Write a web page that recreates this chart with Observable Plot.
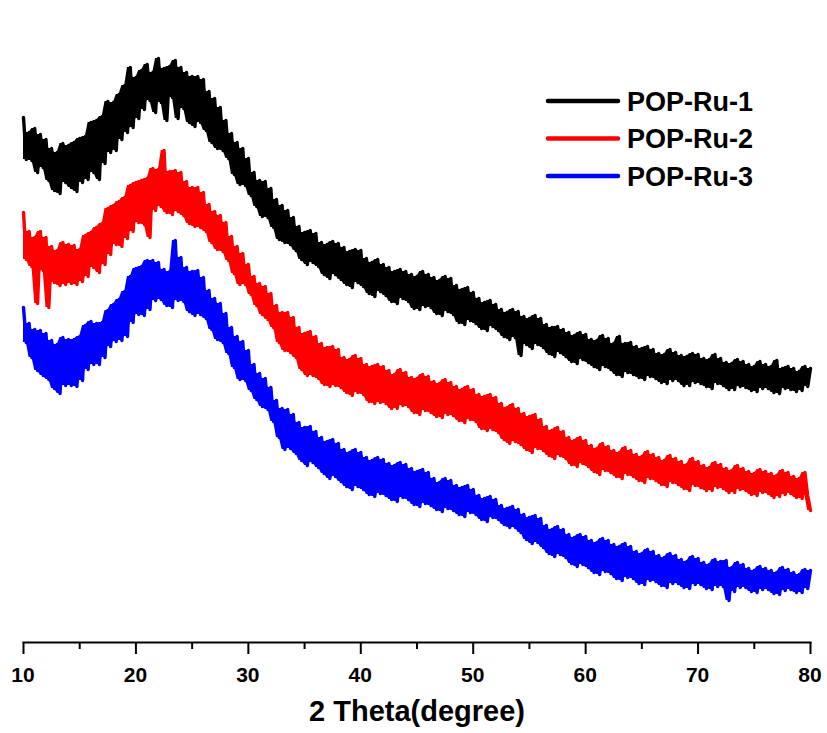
<!DOCTYPE html>
<html>
<head>
<meta charset="utf-8">
<script src="https://cdn.jsdelivr.net/npm/d3@7"></script>
<script src="https://cdn.jsdelivr.net/npm/@observablehq/plot@0.6"></script>
<style>
  html, body { margin: 0; padding: 0; background: #fff; }
  #wrap { position: relative; width: 827px; height: 733px; font-family: "Liberation Sans", Arial, sans-serif; }
  #overlay { position: absolute; left: 0; top: 0; pointer-events: none; }
</style>
</head>
<body>
<div id="wrap"></div>
<script>
// 2θ sampling grid (degrees) and axis ticks
const thetaStart = 10, thetaEnd = 80, thetaStep = 0.25;
const majorTicks = [10, 20, 30, 40, 50, 60, 70, 80];
const minorTicks = [15, 25, 35, 45, 55, 65, 75];
const xTitle = "2 Theta(degree)";
const seriesNames = ["POP-Ru-1", "POP-Ru-2", "POP-Ru-3"];
const seriesColors = ["#000000", "#ff0000", "#0000ff"];

// Intensities (a.u., offset stacked), 0.25° apart
const popRu1 = [
525,483,510,482, 514,470,508,475, 503,462,494,452, 490,449,499,460, 497,455,500,451,
504,460,506,463, 520,470,522,463, 526,479,541,490, 540,492,548,503, 557,510,575,515,
565,524,572,533, 578,542,570,530, 584,540,574,522, 576,545,582,524, 575,534,570,520,
566,516,566,520, 563,512,551,500, 544,494,535,492, 522,484,509,468, 500,458,494,457,
484,447,470,436, 462,426,461,425, 454,415,443,403, 437,400,432,398, 425,392,416,383,
410,378,412,380, 409,376,400,368, 398,364,401,368, 399,363,395,358, 391,355,393,360,
392,356,384,349, 380,346,383,351, 378,347,375,341, 371,339,373,344, 371,341,368,334,
366,333,371,336, 368,335,365,329, 362,327,366,331, 364,328,357,320, 353,318,355,322,
350,319,344,314, 340,312,342,316, 338,312,333,306, 330,303,333,305, 331,287,326,298,
324,294,327,298, 324,295,318,289, 315,286,316,290, 313,286,310,281, 307,279,310,283,
308,280,303,276, 302,273,307,276, 304,273,299,268, 306,266,299,270, 300,268,296,265,
294,263,296,266, 293,264,289,260, 288,259,293,262, 290,262,287,257, 286,257,289,260,
288,259,284,256, 283,254,288,259, 284,257,280,253, 279,253,283,256, 281,255,278,252,
276,251,281,254, 278,254,276,250, 282,249,274,254, 276,253,274,251, 271,252,276,256,
274];

const popRu2 = [
430,383,411,376, 405,339,411,372, 405,335,396,360, 392,357,400,358, 398,359,397,358,
393,361,407,366, 410,375,415,370, 419,378,434,388, 437,398,441,396, 445,404,457,411,
460,420,462,418, 464,405,474,432, 473,436,492,430, 471,428,472,431, 470,427,461,419,
455,416,455,415, 450,411,438,400, 431,393,427,391, 420,382,406,369, 396,358,389,358,
378,348,366,337, 359,328,356,323, 349,315,337,300, 330,292,330,290, 325,285,315,273,
309,267,311,267, 306,264,299,258, 295,256,296,257, 293,255,285,250, 283,247,287,250,
284,248,278,241, 276,239,278,240, 276,239,272,234, 268,234,273,237, 270,236,265,230,
264,228,268,232, 266,230,261,226, 259,225,263,228, 260,227,256,222, 253,220,256,223,
253,221,248,214, 246,212,248,213, 245,210,239,203, 235,199,238,201, 234,198,229,193,
226,190,228,194, 223,192,216,187, 212,184,215,187, 211,184,205,178, 202,176,205,179,
202,176,197,171, 194,168,199,172, 196,170,192,166, 190,164,195,168, 192,166,188,162,
186,160,191,164, 188,162,185,158, 182,156,187,160, 184,158,181,154, 178,152,184,157,
181,155,177,152, 175,152,180,155, 178,154,174,150, 172,150,177,153, 174,152,171,148,
169,147,173,150, 171,149,169,145, 167,146,172,148, 170,149,166,145, 164,144,170,147,
132];

const popRu3 = [
335,300,319,285, 313,272,312,267, 309,263,302,254, 298,249,305,257, 303,257,303,256,
306,262,317,273, 321,278,319,278, 320,285,332,296, 338,301,343,302, 351,306,366,320,
374,328,376,327, 382,333,382,342, 380,343,373,337, 371,335,402,342, 385,341,375,331,
371,327,372,328, 365,324,352,313, 344,303,339,300, 329,289,315,275, 306,263,301,262,
292,252,278,243, 269,236,264,233, 255,221,242,205, 234,193,233,194, 228,189,220,182,
215,177,216,180, 211,175,205,169, 201,164,203,166, 199,161,193,156, 190,153,193,156,
190,153,185,148, 182,146,185,149, 183,147,179,143, 177,141,180,145, 178,143,174,138,
171,136,173,139, 170,137,164,133, 160,131,164,134, 162,132,157,128, 155,126,157,130,
153,128,147,123, 144,121,146,125, 143,123,137,118, 134,115,136,115, 133,110,128,103,
125,99,127,100, 124,95,117,89, 113,86,116,88, 113,85,108,79, 105,76,108,78,
106,75,102,70, 100,68,104,71, 102,69,98,64, 96,62,99,65, 96,64,91,59,
89,58,93,62, 91,61,87,57, 85,55,89,59, 87,59,83,55, 81,54,86,58,
84,58,80,54, 78,53,83,56, 81,56,82,42, 75,51,80,55, 78,55,74,51,
72,50,76,53, 74,53,72,49, 70,48,75,52, 73,53,70,50, 68,50,73,54,
72];

const theta = d3.range(0, popRu1.length).map(i => thetaStart + i * thetaStep);
const allSeries = [popRu1, popRu2, popRu3];
const rows = [];
allSeries.forEach((vals, s) => vals.forEach((v, i) => rows.push({theta: theta[i], intensity: v, series: seriesNames[s]})));

const W = 827, H = 733;
const FONT = "'Liberation Sans', Arial, sans-serif";
const chart = Plot.plot({
  width: W,
  height: H,
  marginLeft: 23,
  marginRight: 17,
  marginTop: 42,
  marginBottom: 91,
  style: {background: "#ffffff", fontFamily: FONT, color: "#000", overflow: "visible"},
  x: {domain: [thetaStart, thetaEnd]},
  y: {domain: [0, 600], axis: null},
  color: {domain: seriesNames, range: seriesColors},
  marks: [
    // fill between consecutive samples so the noisy trace reads as a solid band
    Plot.areaY(rows, Plot.map(
      {y1: Plot.window({k: 2, reduce: "min"}), y2: Plot.window({k: 2, reduce: "max"})},
      {x: "theta", y1: "intensity", y2: "intensity", z: "series", fill: "series"})),
    Plot.line(rows, {x: "theta", y: "intensity", z: "series", stroke: "series", strokeWidth: 3.4, strokeLinejoin: "round", strokeLinecap: "round"}),
    Plot.frame({anchor: "bottom", stroke: "#000", strokeWidth: 2}),
    Plot.axisX({ticks: majorTicks, tickSize: 12, tickFormat: () => "", fill: "none", strokeWidth: 2, label: null, stroke: "#000"}),
    Plot.axisX({ticks: minorTicks, tickSize: 7, tickFormat: () => "", fill: "none", strokeWidth: 2, label: null, stroke: "#000"}),
    Plot.text([xTitle], {frameAnchor: "bottom", lineAnchor: "top", dy: 58, text: d => d, fontSize: 29, fontWeight: "bold", fill: "#000"})
  ]
});
const wrap = document.getElementById("wrap");
wrap.appendChild(chart);

// Overlay: tick labels (positioned with Plot's own x scale) and the legend
const xs = chart.scale("x");
const axisBottom = H - 91;
const ov = d3.select(wrap).append("svg").attr("id", "overlay").attr("width", W).attr("height", H);
ov.selectAll("text.tick").data(majorTicks).join("text").attr("class", "tick")
  .attr("x", d => xs.apply(d)).attr("y", axisBottom + 25).attr("dy", "0.72em")
  .attr("text-anchor", "middle").attr("font-family", FONT).attr("font-weight", "bold")
  .attr("font-size", 21).attr("fill", "#000").text(d => String(d));

const legendX0 = 548, legendX1 = 618, legendY0 = 101, legendGap = 37.5;
seriesNames.forEach((name, i) => {
  const y = legendY0 + i * legendGap;
  ov.append("line").attr("x1", legendX0).attr("x2", legendX1).attr("y1", y).attr("y2", y)
    .attr("stroke", seriesColors[i]).attr("stroke-width", 4.5).attr("stroke-linecap", "round");
  ov.append("text").attr("x", legendX1 + 9).attr("y", y).attr("dy", "0.36em")
    .attr("font-family", FONT).attr("font-weight", "bold")
    .attr("font-size", 27).attr("fill", "#000").text(name);
});
</script>
</body>
</html>
